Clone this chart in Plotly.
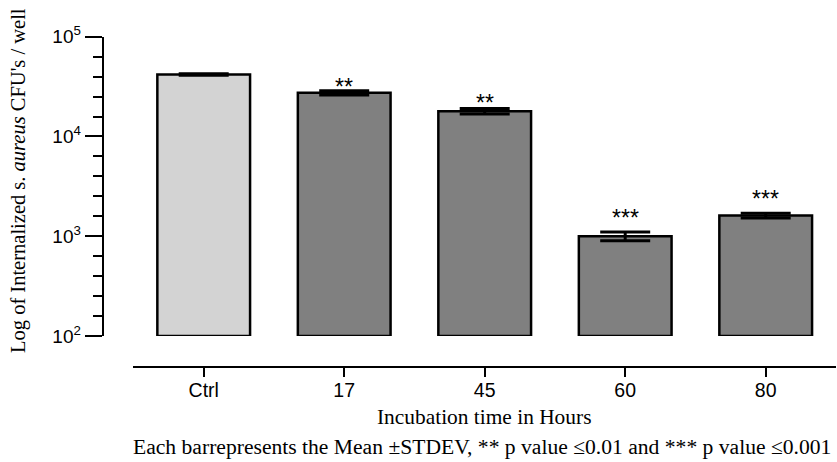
import math
import plotly.graph_objects as go

# Internalised S. aureus counts per well, by incubation time
categories = ["Ctrl", "17", "45", "60", "80"]
mean_cfu = [41800, 27400, 17900, 1000, 1610]
stdev_cfu = [700, 1400, 1150, 100, 85]
significance = ["", "**", "**", "***", "***"]
star_level = [None, 33500, 23400, 1650, 2530]
bar_colors = ["#d3d3d3", "#808080", "#808080", "#808080", "#808080"]

y_major = [1e2, 1e3, 1e4, 1e5]
y_major_text = ["10<sup>2</sup>", "10<sup>3</sup>", "10<sup>4</sup>", "10<sup>5</sup>"]

W, H = 837, 462
LOG_BASE = 100  # bars rise from the bottom of the log axis

sans = "Liberation Sans, Arial, sans-serif"
serif = "Liberation Serif, Times New Roman, serif"

fig = go.Figure()

fig.add_trace(go.Bar(
    x=list(range(len(categories))),
    y=[m - LOG_BASE for m in mean_cfu],
    base=[LOG_BASE] * len(categories),
    marker=dict(color=bar_colors, line=dict(color="black", width=2.5)),
    cliponaxis=False,
    hoverinfo="skip",
))

fig.add_trace(go.Scatter(
    x=list(range(len(categories))),
    y=mean_cfu,
    mode="markers",
    marker=dict(size=1, opacity=0),
    error_y=dict(type="data", array=stdev_cfu, visible=True,
                 color="black", thickness=3, width=25),
    cliponaxis=False,
    hoverinfo="skip",
))

# significance stars
for i, (txt, lvl) in enumerate(zip(significance, star_level)):
    if not txt:
        continue
    fig.add_annotation(
        x=i, y=math.log10(lvl), xref="x", yref="y",
        text=txt, showarrow=False, xanchor="center", yanchor="middle",
        yshift=-3,
        font=dict(family=sans, size=23, color="black"),
    )

minor_vals = [10 ** (k + j / 5) for k in range(2, 5) for j in range(1, 5)]

fig.update_layout(
    width=W, height=H,
    margin=dict(l=0, r=0, t=0, b=0),
    paper_bgcolor="white", plot_bgcolor="white",
    showlegend=False,
    bargap=0.34,
    xaxis=dict(
        range=[-0.5, 4.5],
        domain=[133.45 / W, 835.95 / W],
        anchor="free", position=1 - 366.7 / H,
        tickmode="array", tickvals=list(range(len(categories))), ticktext=categories,
        showline=True, linecolor="black", linewidth=2,
        ticks="outside", ticklen=9, tickwidth=2, tickcolor="black",
        ticklabelstandoff=-3,
        tickfont=dict(family=sans, size=19.5, color="black"),
        showgrid=False, zeroline=False, automargin=False,
    ),
    yaxis=dict(
        type="log",
        range=[2, 5],
        domain=[1 - 336 / H, 1 - 36.7 / H],
        anchor="free", position=102.7 / W,
        showline=True, linecolor="black", linewidth=2,
        tickmode="array", tickvals=y_major, ticktext=y_major_text,
        ticks="outside", ticklen=17, tickwidth=2, tickcolor="black",
        tickfont=dict(family=sans, size=19, color="black"),
        minor=dict(tickmode="array", tickvals=minor_vals, ticks="outside",
                   ticklen=9, tickwidth=2, tickcolor="black", showgrid=False),
        showgrid=False, zeroline=False, automargin=False,
    ),
)

fig.add_annotation(
    x=18 / W, y=1 - 181 / H, xref="paper", yref="paper",
    xanchor="center", yanchor="middle",
    text="Log of Internalized s. <i>aureus</i> CFU's / well",
    textangle=-90, showarrow=False,
    font=dict(family=serif, size=20.5, color="black"),
)
fig.add_annotation(
    x=484 / W, y=1 - 417 / H, xref="paper", yref="paper",
    xanchor="center", yanchor="middle",
    text="Incubation time in Hours", showarrow=False,
    font=dict(family=serif, size=21.4, color="black"),
)
fig.add_annotation(
    x=482 / W, y=1 - 447 / H, xref="paper", yref="paper",
    xanchor="center", yanchor="middle",
    text="Each barrepresents the Mean \u00b1STDEV, ** p value \u22640.01 and *** p value \u22640.001",
    showarrow=False,
    font=dict(family=serif, size=21.6, color="black"),
)

fig.write_html("out.html")
